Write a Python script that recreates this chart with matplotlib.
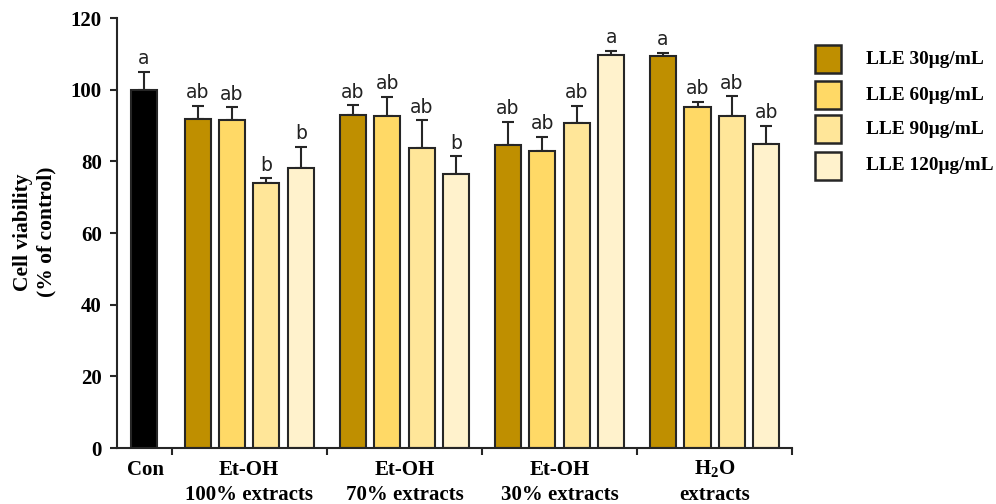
import matplotlib
matplotlib.use("Agg")
import matplotlib.pyplot as plt
import numpy as np
from matplotlib.patches import Rectangle

plt.rcParams['mathtext.fontset'] = 'custom'
plt.rcParams['mathtext.rm'] = 'Liberation Serif:bold'
plt.rcParams['mathtext.bf'] = 'Liberation Serif:bold'

serif = 'Liberation Serif'

# ---- data ----
con_value = 100.0
con_err = 5.1
con_letter = 'a'

groups = ['Et-OH\n100% extracts', 'Et-OH\n70% extracts', 'Et-OH\n30% extracts', r'H$_2$O' + '\nextracts']
series = ['LLE 30μg/mL', 'LLE 60μg/mL', 'LLE 90μg/mL', 'LLE 120μg/mL']
values = np.array([
    [91.8, 91.5, 73.9, 78.2],
    [93.0, 92.6, 83.8, 76.6],
    [84.7, 83.0, 90.8, 109.8],
    [109.3, 95.1, 92.8, 85.0],
])
errors = np.array([
    [3.7, 3.6, 1.4, 5.9],
    [2.7, 5.4, 7.7, 4.8],
    [6.3, 3.9, 4.7, 1.1],
    [1.0, 1.5, 5.4, 4.9],
])
letters = [
    ['ab', 'ab', 'b', 'b'],
    ['ab', 'ab', 'ab', 'b'],
    ['ab', 'ab', 'ab', 'a'],
    ['a', 'ab', 'ab', 'ab'],
]
colors = ['#BF8F00', '#FFD966', '#FFE699', '#FFF2CC']
yticks = [0, 20, 40, 60, 80, 100, 120]

W, H = 996, 504
fig = plt.figure(figsize=(W / 100, H / 100), dpi=100)
ax = fig.add_axes([0.1175, 0.111, 0.678, 0.853])

edge = '#262626'
bw = 0.168
step = 0.222
con_x = 0.32
lfs = 13.5

ekw = dict(elinewidth=1.5, capsize=4.5, capthick=1.5, ecolor=edge)

ax.bar(con_x, con_value, width=bw, color='black', edgecolor=edge, linewidth=1.5, zorder=2)
ax.errorbar(con_x, con_value, yerr=[[0], [con_err]], fmt='none', **ekw, zorder=1)
ax.text(con_x, con_value + con_err + 1.0, con_letter, ha='center', va='bottom',
        fontsize=lfs, family='DejaVu Sans', color='#222222')

for g in range(len(groups)):
    center = g + 1
    for s in range(len(series)):
        x = center + (s - 1.5) * step
        v = values[g, s]
        e = errors[g, s]
        ax.bar(x, v, width=bw, color=colors[s], edgecolor=edge, linewidth=1.5, zorder=2)
        ax.errorbar(x, v, yerr=[[0], [e]], fmt='none', **ekw, zorder=1)
        ax.text(x, v + e + 1.0, letters[g][s], ha='center', va='bottom',
                fontsize=lfs, family='DejaVu Sans', color='#222222')

ax.set_xlim(0.148, 4.5)
ax.set_ylim(0, 120)
ax.set_yticks(yticks)
ax.set_yticklabels([str(t) for t in yticks], family=serif, fontweight='bold', fontsize=15)
ax.set_xticks([0.5, 1.5, 2.5, 3.5, 4.5])
ax.set_xticklabels([])
ax.tick_params(axis='both', direction='out', length=5, width=1.5, color=edge, pad=6)
for sp in ['top', 'right']:
    ax.spines[sp].set_visible(False)
for sp in ['left', 'bottom']:
    ax.spines[sp].set_linewidth(1.5)
    ax.spines[sp].set_color(edge)

trans = ax.get_xaxis_transform()
ax.text(con_x + 0.01, -0.05, 'Con', transform=trans, ha='center', va='center',
        family=serif, fontweight='bold', fontsize=15)
for g, name in enumerate(groups):
    top, bottom = name.split('\n')
    ax.text(g + 1, -0.05, top, transform=trans, ha='center', va='center',
            family=serif, fontweight='bold', fontsize=15)
    ax.text(g + 1, -0.11, bottom, transform=trans, ha='center', va='center',
            family=serif, fontweight='bold', fontsize=15)

fig.text(35 / W, 1 - 232 / H, 'Cell viability\n(% of control)', rotation=90, ha='center', va='center',
         family=serif, fontweight='bold', fontsize=15.5, linespacing=1.25)

# legend drawn as figure patches/text
box_tops = [45, 81, 115, 152]
for i, lab in enumerate(series):
    y0 = box_tops[i]
    fig.add_artist(Rectangle((815 / W, 1 - (y0 + 28) / H), 26 / W, 28 / H,
                             facecolor=colors[i], edgecolor=edge, linewidth=1.8,
                             transform=fig.transFigure))
    fig.text(866 / W, 1 - (y0 + 14) / H, lab, ha='left', va='center',
             family=serif, fontweight='bold', fontsize=13.9)

fig.savefig('out.png', dpi=100)
